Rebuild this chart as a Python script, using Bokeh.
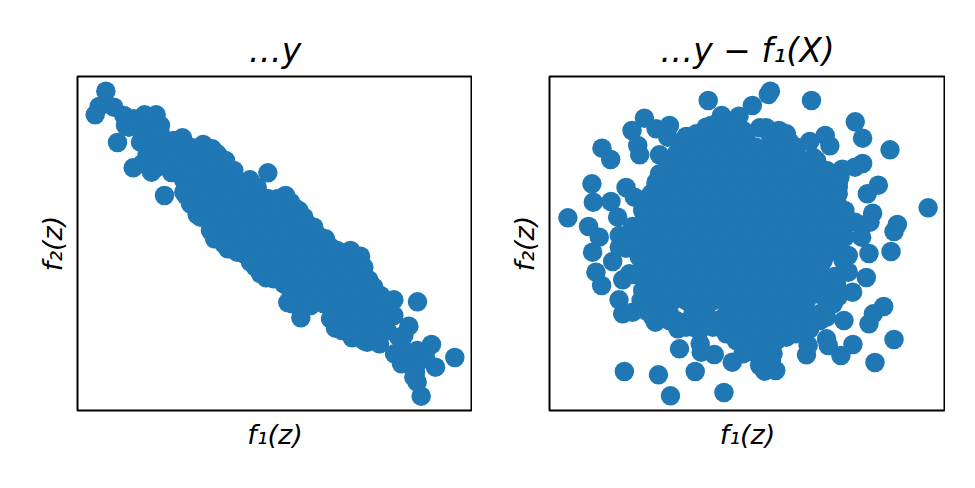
from bokeh.plotting import figure
from bokeh.layouts import row
from bokeh.models import Range1d
from bokeh.embed import file_html
from bokeh.resources import INLINE

BLUE = "#1f77b4"
titles = ["…y", "…y − f₁(X)"]
x_label = "f₁(z)"
y_label = "f₂(z)"

# Left panel: values (arbitrary units; axes carry no ticks)
f1_left = [106,86,130,74,141,188,243,282,592,538,645,1041,1015,1083,1153,1095,1052,1040,1000,970,
           652,691,795,845,890,927,972,993,1025,1045,1035,222,257,190,175,336,398,445,475,303,
           347,380,432,472,520,555,587,640,820,870,895,930,765,710,685,592,970,950,
           220,260, 230,270,310, 250,290,330,370,410,440,
           300,340,380,420,460, 340,380,420,460,500,
           380,420,460,500,540,590, 400,440,480,520,560,600,640,670,
           430,470,510,550,590,630,670,700, 450,490,530,570,610,650,690,730,750,
           500,540,580,620,660,700,740,770, 560,600,640,680,720,760,800,840,
           600,640,680,720,760,800,840,880, 670,710,750,790,830,870,910,
           690,730,770,810,850,890,930, 800,840,880,920,950, 830,870,910,940, 880,920,
           240,280,320,360,400, 320,360,400,440, 360,400,440,480,
           400,440,480,520,560,600,620, 420,460,500,540,580,620,660,
           450,490,530,570,610,650,690,730, 480,520,560,600,640,680,720,760,
           540,580,620,660,700,740,780,820, 580,620,660,700,740,780,820,860,
           640,680,720,760,800,840,880, 700,740,780,820,860,900,
           820,860,900,930, 850,890,930,
           160,165,200,240,270,230,270,210,230,215,260,280,310,330,365,370,410,430,340,360,
           390,420,460,500,540,570,610,660,665,720,760,780,815,860,900,925,955,945,900,880,
           840,800,780,725,700,660,620,560,520,490,465,425,985,1000,1040,1065,1015,1040,1030]
f2_left = [62,108,110,133,216,292,305,375,307,328,375,694,767,822,861,890,977,935,795,688,
           696,742,773,802,815,820,850,880,850,870,905,133,133,145,170,202,222,258,298,306,
           375,432,505,535,550,590,622,640,555,557,628,675,505,460,420,385,735,780,
           180,180, 210,210,210, 250,250,250,250,250,250,
           290,290,290,290,290, 330,330,330,330,330,
           370,370,370,370,370,385, 410,410,410,410,410,410,410,410,
           450,450,450,450,450,450,450,450, 490,490,490,490,490,490,490,490,500,
           530,530,530,530,530,530,530,530, 570,570,570,570,570,570,570,570,
           610,610,610,610,610,610,610,610, 650,650,650,650,650,650,650,
           690,690,690,690,690,690,690, 730,730,730,730,730, 770,770,770,770, 810,810,
           230,230,230,230,230, 270,270,270,270, 310,310,310,310,
           390,390,390,390,390,390,390, 430,430,430,430,430,430,430,
           470,470,470,470,470,470,470,470, 510,510,510,510,510,510,510,510,
           550,550,550,550,550,550,550,550, 590,590,590,590,590,590,590,590,
           630,630,630,630,630,630,630, 670,670,670,670,670,670,
           750,750,750,750, 790,790,790,
           135,165,165,150,165,190,190,215,250,280,290,280,250,290,300,240,235,275,365,400,
           440,480,520,545,575,610,625,660,700,705,700,745,780,790,800,790,710,690,640,590,
           540,540,530,470,440,395,385,350,340,300,270,235,800,840,840,860,880,880,920]

# Right panel
f1_right = [496,682,676,805,628,588,536,505,936,958,846,860,800,812,1040,305,268,380,375,340,
            285,291,178,204,350,430,958,935,897,148,152,205,250,275,1005,972,1154,76,225,138,
            170,150,210,160,177,230,270,250,300,240,270,229,240,270,338,405,410,472,475,514,
            568,245,347,457,383,543,650,665,698,685,790,795,730,850,855,893,929,902,830,977,
            990,1021,1052,995,928,885,969,915,875,915,890,977,1043,955,1052,1062,980,988,935,885,
            880,885,840,770,700,740,708,670,650,595,350,340,
            450,490,530,570,610,690,
            420,460,500,540,580,620,660,700,740,
            400,440,480,520,560,600,640,680,720,760,800,
            370,410,450,490,530,570,610,650,690,730,770,810,840,
            330,370,410,450,490,530,570,610,650,690,730,770,810,850,870,
            320,360,400,440,480,520,560,600,640,680,720,760,800,840,870,
            320,360,400,440,480,520,560,600,640,680,720,760,800,840,880,
            330,370,410,450,490,530,570,610,650,690,730,770,810,860,
            330,370,410,450,490,530,570,610,650,690,730,770,810,860,
            350,390,430,470,510,550,590,630,670,710,750,790,840,
            320,360,400,440,480,520,560,600,640,680,720,760,820,
            310,350,390,430,470,510,550,590,630,670,710,750,790,830,
            310,350,390,430,470,510,550,590,630,670,710,750,790,850,
            340,380,450,490,550,590,630,670,710,750,790,830,
            450,530,570,610,650,690,730,780,
            590,630,670,700, 600,640,690,
            480,520,560,600, 680,720,
            440,480,520,560,600,640,680,720,760,
            380,420,460,500,540,580,620,660,700,740,780,820,
            350,390,430,470,510,550,590,630,670,710,750,790,830,870,
            340,380,420,460,500,540,580,620,660,700,740,780,820,860,885,
            320,360,400,440,480,520,560,600,640,680,720,760,800,840,880,
            320,360,400,440,480,520,560,600,640,680,720,760,800,840,880,
            340,380,420,460,500,540,580,620,660,700,740,780,820,860,
            340,380,420,460,500,540,580,620,660,700,740,780,820,870,
            330,370,410,450,490,530,570,610,650,690,730,770,810,850,
            320,360,400,440,480,520,560,600,640,680,720,760,800,830,
            320,360,400,440,480,520,560,600,640,680,720,760,800,840,
            340,380,420,460,500,540,580,620,660,700,740,780,820,
            400,440,480,520,560,600,640,680,720,760,800,
            560,600,640,680,720,760,
            620,650,680,
            340,350,325,310,305,300,310,310,300,310,300,295,310,330,380,430,470,510,550,580,
            610,720,760,800,850,870,860,880,900,905,895,905,885,890,850,800,770,730,600,560,
            520,490,460,420,400,380,
            260,290,280,230,265,290,300,260,285,300]
f2_right = [90,62,72,90,105,137,135,165,154,203,195,226,213,262,238,143,180,165,200,175,
            225,253,233,267,253,198,279,290,296,340,395,393,351,380,344,370,412,442,440,468,
            500,545,573,605,645,495,468,533,530,628,612,688,730,725,755,775,835,820,845,852,
            875,903,913,903,976,966,885,902,900,870,853,825,800,805,825,855,822,750,750,760,
            730,708,807,876,665,678,621,605,618,555,520,549,543,500,483,462,455,428,455,430,
            370,340,315,290,240,215,180,172,172,195,330,345,
            210,210,210,210,210,210,
            250,250,250,250,250,250,250,250,250,
            290,290,290,290,290,290,290,290,290,290,290,
            330,330,330,330,330,330,330,330,330,330,330,330,330,
            370,370,370,370,370,370,370,370,370,370,370,370,370,370,370,
            410,410,410,410,410,410,410,410,410,410,410,410,410,410,410,
            450,450,450,450,450,450,450,450,450,450,450,450,450,450,450,
            490,490,490,490,490,490,490,490,490,490,490,490,490,490,
            530,530,530,530,530,530,530,530,530,530,530,530,530,530,
            570,570,570,570,570,570,570,570,570,570,570,570,570,
            610,610,610,610,610,610,610,610,610,610,610,610,610,
            650,650,650,650,650,650,650,650,650,650,650,650,650,650,
            690,690,690,690,690,690,690,690,690,690,690,690,690,690,
            730,730,730,730,730,730,730,730,730,730,730,730,
            770,770,770,770,770,770,770,770,
            810,810,810,810, 850,850,850,
            190,190,190,190, 190,190,
            230,230,230,230,230,230,230,230,230,
            270,270,270,270,270,270,270,270,270,270,270,270,
            310,310,310,310,310,310,310,310,310,310,310,310,310,310,
            350,350,350,350,350,350,350,350,350,350,350,350,350,350,350,
            390,390,390,390,390,390,390,390,390,390,390,390,390,390,390,
            430,430,430,430,430,430,430,430,430,430,430,430,430,430,430,
            470,470,470,470,470,470,470,470,470,470,470,470,470,470,
            510,510,510,510,510,510,510,510,510,510,510,510,510,510,
            550,550,550,550,550,550,550,550,550,550,550,550,550,550,
            590,590,590,590,590,590,590,590,590,590,590,590,590,590,
            630,630,630,630,630,630,630,630,630,630,630,630,630,630,
            670,670,670,670,670,670,670,670,670,670,670,670,670,
            750,750,750,750,750,750,750,750,750,750,750,
            790,790,790,790,790,790,
            830,830,830,
            335,320,370,400,440,480,510,540,590,620,660,690,720,740,750,770,780,770,790,810,
            840,790,770,775,740,700,670,640,570,500,470,420,370,320,300,270,270,190,180,170,
            160,170,190,220,250,280,
            490,470,510,530,520,560,390,610,610,420]

FONT = "DejaVu Sans"

def panel(fx, fy, title, left, fw):
    p = figure(frame_width=fw, frame_height=334, output_backend="svg", toolbar_location=None,
               x_range=Range1d(21, 1206), y_range=Range1d(1020, 18),
               min_border_left=left, min_border_right=0, min_border_top=76, min_border_bottom=60,
               title=title)
    p.scatter(fx, fy, size=19.5, color=BLUE, line_width=0)
    p.grid.visible = False
    p.outline_line_color = "black"
    p.outline_line_width = 2
    p.outline_line_alpha = 1
    p.title.align = "center"
    p.title.text_font = FONT
    p.title.text_font_size = "33px"
    p.title.text_font_style = "italic"
    p.title.text_color = "black"
    p.title.offset = 0
    p.title.standoff = 13
    for ax, lab, gap in ((p.xaxis[0], x_label, 8), (p.yaxis[0], y_label, 10)):
        ax.axis_label = lab
        ax.axis_label_text_font = FONT
        ax.axis_label_text_font_size = "27px"
        ax.axis_label_text_font_style = "italic"
        ax.axis_label_text_color = "black"
        ax.axis_label_standoff = gap
        ax.axis_line_color = None
        ax.major_tick_line_color = None
        ax.minor_tick_line_color = None
        ax.major_label_text_font_size = "0px"
        ax.major_label_text_color = None
        ax.major_tick_out = 0
        ax.major_tick_in = 0
        ax.minor_tick_out = 0
    return p

assert len(f1_left) == len(f2_left) and len(f1_right) == len(f2_right)
p1 = panel(f1_left, f2_left, titles[0], 77, 395)
p2 = panel(f1_right, f2_right, titles[1], 77, 396)
layout = row(p1, p2)
open("out.html", "w").write(file_html(layout, INLINE))
